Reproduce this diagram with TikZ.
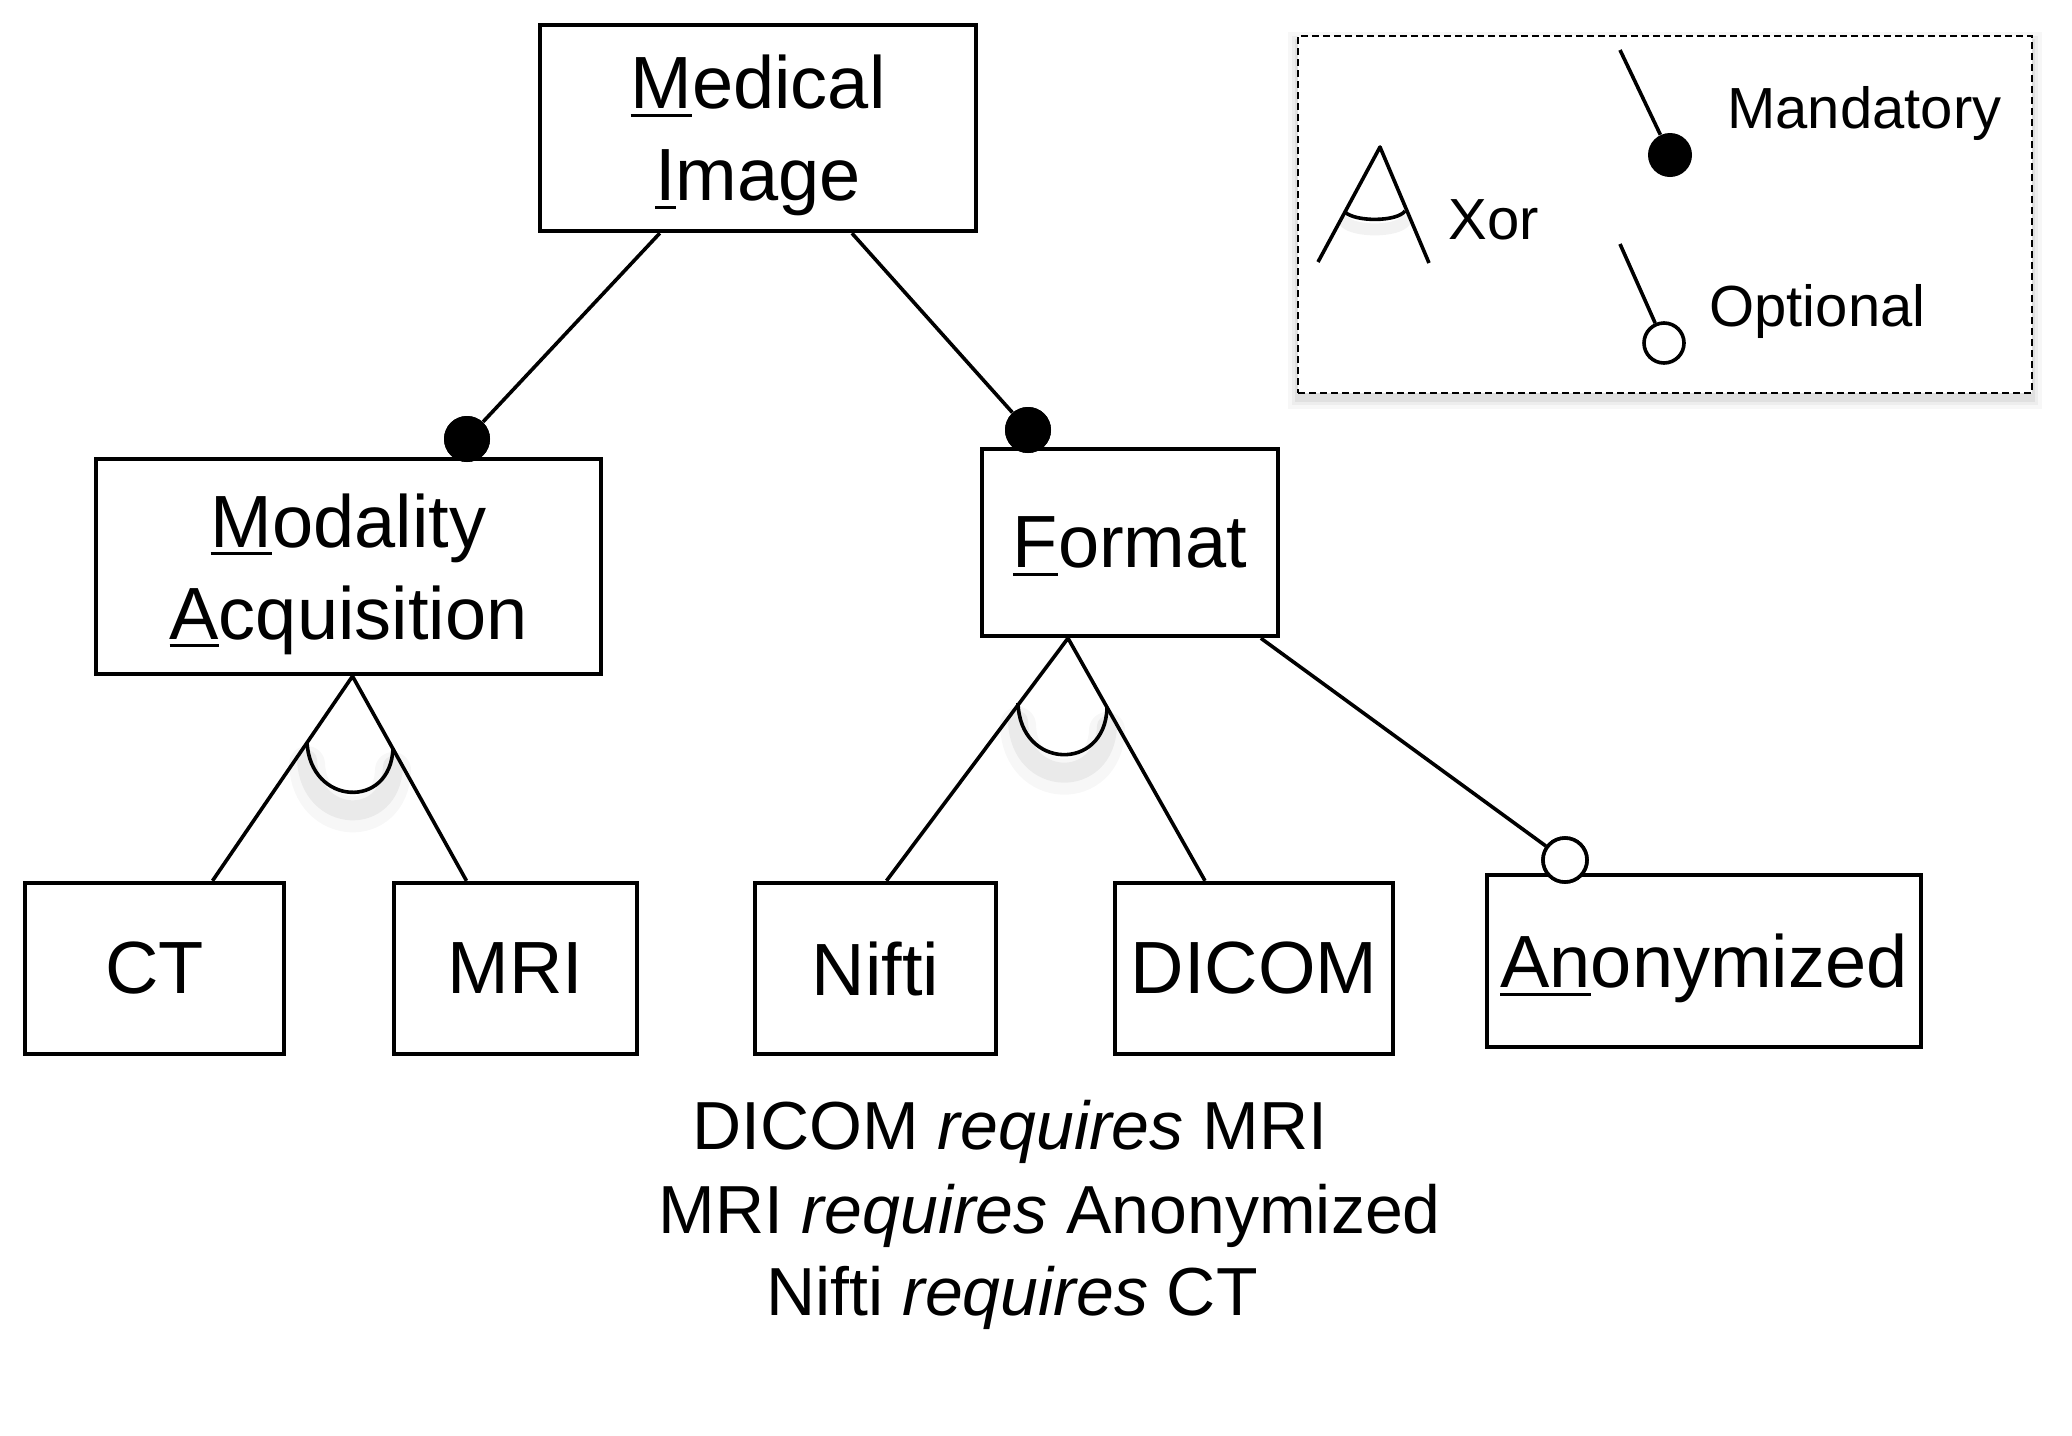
\documentclass[tikz,border=0pt]{standalone}
\usepackage{fontspec}
\setmainfont{Liberation Sans}
\usetikzlibrary{calc}
\newcommand{\uln}[1]{\setbox0\hbox{#1}\rlap{\rule[-4pt]{\wd0}{1.5pt}}#1}
\begin{document}
\begin{tikzpicture}[x=0.5pt,y=-0.5pt,
  feat/.style={draw, line width=2.2pt, inner sep=0pt, align=center,
               font=\fontsize{37}{46}\selectfont},
  conn/.style={line width=1.8pt},
  mand/.style={circle, fill=black, inner sep=0pt, minimum size=23pt},
  opt/.style={circle, draw, line width=1.8pt, fill=white, inner sep=0pt, minimum size=22pt},
  lmand/.style={circle, fill=black, inner sep=0pt, minimum size=22pt},
  lopt/.style={circle, draw, line width=1.8pt, fill=white, inner sep=0pt, minimum size=20pt},
  arcsh/.style={line cap=round, draw=black, line width=10pt, opacity=0.05},
  rule/.style={anchor=base west, inner sep=0pt, font=\fontsize{34}{40}\selectfont},
  lgtext/.style={anchor=base west, inner sep=0pt, font=\fontsize{29}{34}\selectfont},
  legbox/.style={draw, dash pattern=on 3.5pt off 2pt, line width=0.9pt, fill=white,
                 inner sep=0pt, minimum width=367pt, minimum height=178.5pt}]
\fill[white] (0,0) rectangle (2072,1435);
\useasboundingbox (0,0) rectangle (2072,1435);

% feature boxes
\node[feat, minimum width=218pt, minimum height=103pt, text depth=0pt] (med) at (758,128) {\uln{M}edical\\\uln{I}mage};
\node[feat, minimum width=252.5pt, minimum height=107.5pt, text depth=0pt] (mod) at (348.5,566.5) {\uln{M}odality\\\uln{A}cquisition};
\node[feat, minimum width=148pt, minimum height=93.5pt, text depth=0pt] (fmt) at (1130,542.5) {\uln{F}ormat};
\node[feat, minimum width=129.5pt, minimum height=85.5pt] (ct) at (154.5,968.5) {CT};
\node[feat, minimum width=121.5pt, minimum height=85.5pt] (mri) at (515.5,968.5) {MRI};
\node[feat, minimum width=120.5pt, minimum height=85.5pt] (nif) at (875.5,968.5) {Nifti};
\node[feat, minimum width=139pt, minimum height=85.5pt] (dic) at (1254,968.5) {DICOM};
\node[feat, minimum width=217pt, minimum height=86pt, text depth=0pt] (ano) at (1704,961) {\uln{An}onymized};

% mandatory / optional markers
\node[mand] (m1) at (467,439) {};
\node[mand] (m2) at (1028,430) {};
\node[opt] (o1) at (1565,860) {};
\draw[conn] (med) -- (m1);
\draw[conn] (med) -- (m2);
\draw[conn] (fmt) -- (o1);
\node[mand] at (m1) {};
\node[mand] at (m2) {};
\node[opt] at (o1) {};

% xor groups
\coordinate (modx) at ($(mod.south)+(4,0)$);
\coordinate (ctx) at ($(ct.north)+(58,0)$);
\coordinate (mrix) at ($(mri.north)+(-49,0)$);
\draw[conn, line join=round] (ctx) -- (modx) -- (mrix);
\draw[arcsh] (307,760) .. controls (310,824) and (391,828) .. (393,766);
\draw[arcsh, line width=18pt, opacity=0.03] (307,764) .. controls (310,828) and (391,832) .. (393,770);
\draw[conn] (307,742) .. controls (310,806) and (391,810) .. (393,748);

\coordinate (fmtx) at ($(fmt.south)+(-62,0)$);
\coordinate (nifx) at ($(nif.north)+(11,0)$);
\coordinate (dicx) at ($(dic.north)+(-49,0)$);
\draw[conn, line join=round] (nifx) -- (fmtx) -- (dicx);
\draw[arcsh] (1018,721) .. controls (1020,788) and (1105,790) .. (1107,726);
\draw[arcsh, line width=18pt, opacity=0.03] (1018,725) .. controls (1020,792) and (1105,794) .. (1107,730);
\draw[conn] (1018,703) .. controls (1020,770) and (1105,772) .. (1107,708);

% constraints
\node[rule] (r1) at (692,1149) {DICOM \textit{requires} MRI};
\node[rule] (r2) at (658,1233) {MRI \textit{requires} Anonymized};
\node[rule] (r3) at (766,1315) {Nifti \textit{requires} CT};

% legend
\foreach \d/\o in {10/0.03,6/0.04,3/0.05}{
  \fill[black, opacity=\o] (1298-\d,36-\d+6) rectangle (2032+\d,393+\d+6);
}
\node[legbox] (leg) at (1665,214.5) {};
\coordinate (lxa) at (1380,147);
\coordinate (lxl) at (1318,262);
\coordinate (lxr) at (1429,263);
\draw[conn, line join=round] (lxl) -- (lxa) -- (lxr);
\draw[arcsh, line width=6pt] (1345,222) .. controls (1355,232) and (1397,232) .. (1405,221);
\draw[conn] (1345,212) .. controls (1355,222) and (1397,222) .. (1405,211);
\node[lgtext] (lxor) at (1448,239) {Xor};

\coordinate (lmt) at (1620,50);
\node[lmand] (lm) at (1670,155) {};
\draw[conn] (lmt) -- (lm);
\node[lgtext] (lman) at (1727,128) {Mandatory};

\coordinate (lot) at (1620,244);
\node[lopt] (lo) at (1664,343) {};
\draw[conn] (lot) -- (lo);
\node[lgtext] (lopttext) at (1709,326) {Optional};
\end{tikzpicture}
\end{document}
